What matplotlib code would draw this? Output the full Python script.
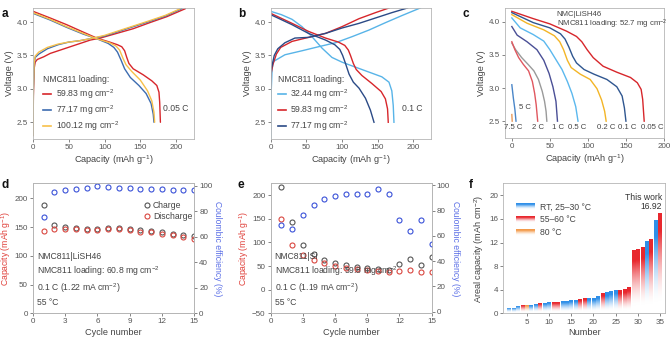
import numpy as np
import matplotlib
matplotlib.use("Agg")
import matplotlib.pyplot as plt
from matplotlib.lines import Line2D
from matplotlib.colors import to_rgb

plt.rcParams['font.family'] = ['Liberation Sans', 'DejaVu Sans']
plt.rcParams['mathtext.fontset'] = 'custom'
plt.rcParams['mathtext.rm'] = 'Liberation Sans'
plt.rcParams['mathtext.it'] = 'Liberation Sans:italic'
plt.rcParams['mathtext.bf'] = 'Liberation Sans:bold'

# ---------------- panel a: 0.05 C, three cathode loadings ----------------
a_loadings = ["59.83", "77.17", "100.12"]
a_chg_5983 = [(0, 2.30), (0.5, 2.9), (1.5, 3.30), (3, 3.40), (6, 3.44), (15, 3.48), (24, 3.53), (38, 3.58),
              (52, 3.63), (66, 3.68), (80, 3.73), (94, 3.76), (117, 3.83), (140, 3.90), (163, 3.99),
              (187, 4.08), (213, 4.20)]
a_chg_7717 = [(0, 2.30), (0.5, 3.0), (1.5, 3.35), (3, 3.47), (8, 3.52), (20, 3.60), (35, 3.66), (50, 3.70),
              (65, 3.72), (80, 3.75), (100, 3.79), (120, 3.86), (140, 3.93), (163, 4.01), (185, 4.09),
              (208, 4.20)]
a_chg_10012 = [(0, 2.30), (0.5, 3.0), (1.5, 3.38), (3, 3.49), (8, 3.55), (20, 3.62), (35, 3.67), (50, 3.70),
               (65, 3.72), (80, 3.75), (100, 3.80), (120, 3.87), (140, 3.94), (163, 4.02), (185, 4.10),
               (206, 4.20)]
a_dis_5983 = [(0, 4.16), (24, 4.06), (47, 3.96), (70, 3.85), (89, 3.76), (107, 3.70), (118, 3.66), (124, 3.63),
              (128, 3.57), (131, 3.47), (134, 3.38), (140, 3.30), (154, 3.21), (166, 3.12), (173, 3.05),
              (176, 2.95), (177, 2.80), (178, 2.50)]
a_dis_7717 = [(0, 4.13), (24, 4.03), (47, 3.92), (70, 3.82), (89, 3.75), (105, 3.68), (113, 3.62), (118, 3.55),
              (123, 3.43), (128, 3.30), (136, 3.17), (148, 3.05), (158, 2.93), (165, 2.78), (168, 2.62),
              (169, 2.50)]
a_dis_10012 = [(0, 4.14), (24, 4.04), (47, 3.93), (70, 3.83), (89, 3.75), (107, 3.69), (116, 3.64), (121, 3.58),
               (126, 3.45), (130, 3.36), (138, 3.26), (150, 3.13), (160, 2.97), (166, 2.82), (169, 2.65),
               (170, 2.50)]
a_colors = ["#d7262b", "#3d6cb0", "#f7c04a"]

# ---------------- panel b: 0.1 C, three cathode loadings ----------------
b_loadings = ["32.44", "59.83", "77.17"]
b_chg_3244 = [(0, 2.25), (0.5, 2.9), (2, 3.30), (4, 3.41), (20, 3.51), (44, 3.57), (67, 3.63), (91, 3.69),
              (114, 3.78), (138, 3.88), (161, 3.99), (185, 4.10), (210, 4.21)]
b_chg_5983 = [(0, 3.15), (1, 3.25), (3, 3.36), (8, 3.52), (14, 3.62), (30, 3.71), (53, 3.77), (77, 3.83),
              (100, 3.93), (124, 4.05), (147, 4.14), (166, 4.21)]
b_chg_7717 = [(0, 3.00), (1, 3.30), (5, 3.50), (10, 3.60), (20, 3.69), (34, 3.76), (53, 3.77), (77, 3.83),
              (100, 3.91), (124, 3.98), (147, 4.06), (170, 4.14), (192, 4.21)]
b_dis_3244 = [(0, 4.16), (15, 4.11), (30, 4.04), (44, 3.93), (58, 3.78), (72, 3.61), (86, 3.47), (100, 3.40),
              (110, 3.36), (133, 3.27), (156, 3.18), (166, 3.10), (170, 2.97), (172, 2.75), (173, 2.50)]
b_dis_5983 = [(0, 4.13), (30, 3.98), (53, 3.86), (77, 3.76), (95, 3.70), (104, 3.65), (109, 3.58), (112, 3.50),
              (116, 3.38), (120, 3.29), (128, 3.20), (142, 3.08), (155, 2.96), (161, 2.85), (164, 2.70),
              (165, 2.50)]
b_dis_7717 = [(0, 4.11), (30, 3.96), (53, 3.83), (77, 3.73), (90, 3.66), (97, 3.59), (101, 3.50), (105, 3.38),
              (110, 3.22), (116, 3.10), (124, 3.01), (133, 2.86), (140, 2.68), (145, 2.50)]
b_colors = ["#58b4e8", "#d7262b", "#2b4a86"]

# ---------------- panel c: rate capability ----------------
c_rate_labels = ["0.05 C", "0.1 C", "0.2 C", "0.5 C", "1 C", "2 C", "5 C", "7.5 C"]
c_005 = [(0, 4.16), (28, 4.05), (50, 3.97), (72, 3.86), (85, 3.78), (92, 3.70), (99, 3.58), (107, 3.46),
         (120, 3.33), (138, 3.24), (156, 3.16), (165, 3.08), (170, 2.98), (172, 2.83), (174, 2.50)]
c_01 = [(0, 4.14), (28, 3.99), (50, 3.91), (64, 3.82), (70, 3.74), (75, 3.62), (80, 3.48), (85, 3.38),
        (95, 3.28), (108, 3.21), (125, 3.13), (138, 3.02), (145, 2.88), (148, 2.70), (150, 2.50)]
c_02 = [(0, 4.11), (20, 3.98), (42, 3.88), (56, 3.79), (63, 3.70), (68, 3.58), (73, 3.42), (78, 3.31),
        (90, 3.21), (103, 3.13), (112, 2.99), (118, 2.82), (122, 2.65), (124, 2.50)]
c_05 = [(0, 4.06), (11, 3.91), (28, 3.81), (42, 3.71), (50, 3.58), (58, 3.43), (66, 3.28), (73, 3.10),
        (79, 2.92), (84, 2.72), (87, 2.50)]
c_1 = [(0, 3.93), (7, 3.80), (20, 3.70), (33, 3.58), (42, 3.42), (49, 3.22), (54, 3.02), (58, 2.80), (60, 2.50)]
c_15 = [(0, 3.68), (5, 3.58), (13, 3.46), (22, 3.35), (29, 3.26), (35, 3.13), (40, 2.95), (43, 2.80),
        (45, 2.65), (46, 2.50)]
c_2 = [(0, 3.70), (4, 3.58), (9, 3.46), (15, 3.36), (22, 3.26), (27, 3.10), (30, 2.92), (32, 2.75), (34, 2.50)]
c_5 = [(0, 3.05), (2, 2.85), (4, 2.68), (5.5, 2.50)]
c_75 = [(0, 2.60), (0.5, 2.50)]
c_curves = [c_005, c_01, c_02, c_05, c_1, c_15, c_2, c_5, c_75]
c_colors = ["#d7262b", "#2f5690", "#f3b526", "#5bb8ee", "#4a4f96", "#9a9a9a", "#e0575f", "#4a86c8", "#e89a5c"]

# ---------------- panel d: NMC811|LiSH46 cycling ----------------
d_cycles = list(range(1, 16))
d_charge = [188, 154, 150, 149, 146.5, 146, 148, 148, 146.5, 145, 143, 140.7, 138.4, 136, 133.7]
d_discharge = [143.6, 146.5, 146.5, 146.5, 145, 145, 147, 146.5, 144, 142, 140.7, 137.8, 135.5, 132.6, 130]
d_ce = [75.7, 94.8, 96.6, 97.4, 98.4, 100, 99.2, 98.4, 98.4, 97.6, 97.4, 97.4, 97.1, 97.1, 97.1]

# ---------------- panel e: NMC811|Si cycling ----------------
e_cycles = list(range(1, 16))
e_charge = [216.9, 143.7, 94.4, 74.6, 62.7, 57, 52, 48.6, 45, 43.7, 41.5, 53.5, 64.8, 52, 68.3]
e_discharge = [149.3, 94.4, 73.2, 62.7, 55.6, 50.7, 46.5, 43.7, 41.5, 39.4, 37.3, 39.4, 40.8, 38, 38]
e_ce = [68.9, 65.3, 76.3, 84.7, 89.5, 91.3, 92.9, 92.9, 93.2, 96.8, 93.2, 72.9, 63.7, 72.9, 53.9]

# ---------------- panel f: areal capacity comparison ----------------
f_areal = [1.0, 1.0, 1.2, 1.4, 1.5, 1.5, 1.6, 1.8, 1.8, 1.9, 1.9, 2.0, 2.1, 2.1, 2.2, 2.2, 2.5, 2.6,
           2.6, 2.7, 3.0, 3.4, 3.55, 3.8, 3.95, 4.0, 4.1, 4.5, 10.77, 10.94, 11.3, 12.2, 12.6, 15.75, 16.92]
f_temp = ["RT", "RT", "RT", "HT", "80", "RT", "RT", "HT", "RT", "RT", "HT", "HT", "RT", "RT", "RT", "RT",
          "HT", "HT", "RT", "RT", "RT", "HT", "RT", "RT", "RT", "HT", "HT", "HT", "HT", "HT", "HT", "RT",
          "HT", "RT", "HT"]
f_temp_labels = {"RT": "RT, 25\u201330 \u00b0C", "HT": "55\u201360 \u00b0C", "80": "80 \u00b0C"}
f_temp_colors = {"RT": "#2f8fe8", "HT": "#e8282e", "80": "#f39a4a"}

TICK_C = "#555555"
SPINE_C = "#b5b5b5"
LABEL_C = "#444444"
FS_TICK = 5.8
FS_LAB = 6.6
FS_TXT = 6.2

fig = plt.figure(figsize=(6.7, 3.38), dpi=100)


def style(ax):
    for s in ax.spines.values():
        s.set_color(SPINE_C)
        s.set_linewidth(0.6)
    ax.tick_params(labelsize=FS_TICK, colors=TICK_C, length=2.2, width=0.5, pad=1.5)


def xy(curve):
    arr = np.array(curve, dtype=float)
    return arr[:, 0], arr[:, 1]


def voltage_axes(ax, xlim):
    ax.set_xlim(*xlim)
    ax.set_ylim(2.25, 4.21)
    ax.set_yticks([2.5, 3.0, 3.5, 4.0])
    ax.set_xticks([0, 50, 100, 150, 200])
    ax.set_xlabel("Capacity (mAh g$^{-1}$)", fontsize=FS_LAB, color=LABEL_C, labelpad=1.5)
    ax.set_ylabel("Voltage (V)", fontsize=FS_LAB, color=LABEL_C, labelpad=2)
    style(ax)


# ---- a ----
ax_a = fig.add_axes([0.0493, 0.5888, 0.2403, 0.3876])
voltage_axes(ax_a, (0, 225))
for chg, dis, col in zip([a_chg_5983, a_chg_7717, a_chg_10012], [a_dis_5983, a_dis_7717, a_dis_10012], a_colors):
    ax_a.plot(*xy(chg), color=col, lw=1.0, solid_capstyle='round')
    ax_a.plot(*xy(dis), color=col, lw=1.0, solid_capstyle='round')
handles = [Line2D([], [], color=c, lw=1.2) for c in a_colors]
leg = ax_a.legend(handles, [f"{v} mg cm$^{{-2}}$" for v in a_loadings], title="NMC811 loading:",
                  loc='lower left', bbox_to_anchor=(0.065, 0.045), frameon=False, fontsize=FS_TXT,
                  title_fontsize=FS_TXT, handlelength=0.9, handletextpad=0.5, labelspacing=0.3,
                  borderpad=0, borderaxespad=0, alignment='left')
for t in leg.get_texts() + [leg.get_title()]:
    t.set_color(LABEL_C)
ax_a.text(182, 2.71, "0.05 C", fontsize=FS_TXT, color=LABEL_C, va='center')

# ---- b ----
ax_b = fig.add_axes([0.404, 0.5888, 0.2393, 0.3876])
voltage_axes(ax_b, (0, 225))
for chg, dis, col in zip([b_chg_3244, b_chg_5983, b_chg_7717], [b_dis_3244, b_dis_5983, b_dis_7717], b_colors):
    ax_b.plot(*xy(chg), color=col, lw=1.0)
    ax_b.plot(*xy(dis), color=col, lw=1.0)
handles = [Line2D([], [], color=c, lw=1.2) for c in b_colors]
leg = ax_b.legend(handles, [f"{v} mg cm$^{{-2}}$" for v in b_loadings], title="NMC811 loading:",
                  loc='lower left', bbox_to_anchor=(0.045, 0.045), frameon=False, fontsize=FS_TXT,
                  title_fontsize=FS_TXT, handlelength=0.9, handletextpad=0.5, labelspacing=0.3,
                  borderpad=0, borderaxespad=0, alignment='left')
for t in leg.get_texts() + [leg.get_title()]:
    t.set_color(LABEL_C)
ax_b.text(184, 2.71, "0.1 C", fontsize=FS_TXT, color=LABEL_C, va='center')

# ---- c ----
ax_c = fig.add_axes([0.7537, 0.5926, 0.2373, 0.3837])
voltage_axes(ax_c, (-9, 200))
for cur, col in zip(c_curves, c_colors):
    ax_c.plot(*xy(cur), color=col, lw=1.0)
c_label_x = [184, 151, 124, 86, 61, 34]
for lab, xpos in zip(c_rate_labels[:6], c_label_x):
    ax_c.text(xpos, 2.41, lab, fontsize=5.6, color=LABEL_C, ha='center', va='center')
ax_c.text(9, 2.70, "5 C", fontsize=5.6, color=LABEL_C, va='center')
ax_c.text(2, 2.40, "7.5 C", fontsize=5.6, color=LABEL_C, ha='center', va='center')
ax_c.text(59, 4.11, "NMC|LiSH46", fontsize=5.6, color=LABEL_C, va='center')
ax_c.text(59, 3.96, "NMC811 loading: 52.7 mg cm$^{-2}$", fontsize=5.6, color=LABEL_C, va='center')

# ---- cycling panels ----
CHG_C = "#555555"
DIS_C = "#d9463f"
CE_C = "#3a52d8"
CE_LAB = "#5a6ee6"
CAP_LAB = "#e0403a"


def cycling(rect, cycles, chg, dis, ce, ylim, yticks, ce_ylim, text, legend):
    ax = fig.add_axes(rect)
    ax2 = ax.twinx()
    mk = dict(marker='o', ms=3.6, mfc='none', mew=0.8, ls='none')
    ax.plot(cycles, chg, mec=CHG_C, label="Charge", **mk)
    ax.plot(cycles, dis, mec=DIS_C, label="Discharge", **mk)
    ax2.plot(cycles, ce, mec=CE_C, **mk)
    ax.set_xlim(0, 15)
    ax.set_xticks([0, 3, 6, 9, 12, 15])
    ax.set_ylim(*ylim)
    ax.set_yticks(yticks)
    ax2.set_ylim(*ce_ylim)
    ax2.set_yticks([0, 20, 40, 60, 80, 100])
    ax.set_xlabel("Cycle number", fontsize=FS_LAB, color=LABEL_C, labelpad=1.5)
    ax.set_ylabel("Capacity (mAh g$^{-1}$)", fontsize=6.2, color=CAP_LAB, labelpad=1)
    ax2.set_ylabel("Coulombic efficiency (%)", fontsize=6.2, color=CE_LAB, rotation=270, labelpad=7)
    style(ax)
    style(ax2)
    ax.text(0.025, 0.05, text, transform=ax.transAxes, fontsize=FS_TXT, color=LABEL_C,
            va='bottom', ha='left', linespacing=1.35)
    if legend:
        lg = ax.legend(loc='upper right', bbox_to_anchor=(1.0, 0.88), frameon=False, fontsize=FS_TXT,
                       handlelength=0.6, handletextpad=0.4, labelspacing=0.25, borderpad=0, borderaxespad=0.2)
        for t in lg.get_texts():
            t.set_color(LABEL_C)
    return ax, ax2


cycling([0.0493, 0.0731, 0.2403, 0.3846], d_cycles, d_charge, d_discharge, d_ce,
        (0, 226), [0, 50, 100, 150, 200], (0, 102),
        "NMC811|LiSH46\nNMC811 loading: 60.8 mg cm$^{-2}$\n0.1 C (1.22 mA cm$^{-2}$)\n55 \u00b0C", True)
cycling([0.404, 0.0731, 0.2403, 0.3846], e_cycles, e_charge, e_discharge, e_ce,
        (-50, 225), [-50, 0, 50, 100, 150, 200], (-1.3, 101.6),
        "NMC811|Si\nNMC811 loading: 59.8 mg cm$^{-2}$\n0.1 C (1.19 mA cm$^{-2}$)\n55 \u00b0C", False)

# ---- f ----
ax_f = fig.add_axes([0.7512, 0.0725, 0.2413, 0.3850])
style(ax_f)
n = np.arange(1, len(f_areal) + 1)
bars = ax_f.bar(n, f_areal, width=0.82, color='none', edgecolor='none')


def fade(color, rows=64):
    # colour at the top of the bar, washing out to white towards its base
    t = np.linspace(0, 1, rows)[:, None]
    a = np.clip((t - 0.12) / 0.7, 0, 1) ** 1.6
    c = np.array(to_rgb(color))[None, :]
    img = (1 - a) * 1.0 + a * c
    return img[:, None, :]


for b, key in zip(bars, f_temp):
    x0 = b.get_x()
    im = ax_f.imshow(fade(f_temp_colors[key]), extent=[x0, x0 + b.get_width(), 0, b.get_height()],
                     origin='lower', aspect='auto', interpolation='bilinear', zorder=2)
    im.set_clip_path(b)

# gradient legend swatches
for i, key in enumerate(["RT", "HT", "80"]):
    yc = 18.0 - i * 2.15
    ax_f.imshow(fade(f_temp_colors[key]), extent=[2.6, 6.7, yc - 0.55, yc + 0.55], origin='lower',
                aspect='auto', interpolation='bilinear', zorder=2)
    ax_f.text(8.0, yc, f_temp_labels[key], fontsize=FS_TXT, color=LABEL_C, va='center')

ax_f.set_xlim(-0.3, 36.1)
ax_f.set_ylim(0, 22)
ax_f.set_xticks([5, 10, 15, 20, 25, 30, 35])
ax_f.set_yticks([0, 4, 8, 12, 16, 20])
ax_f.set_xlabel("Number", fontsize=FS_LAB, color=LABEL_C, labelpad=1.5)
ax_f.set_ylabel("Areal capacity (mAh cm$^{-2}$)", fontsize=FS_LAB, color=LABEL_C, labelpad=2)
ax_f.text(35.4, f_areal[-1] + 0.4, "This work\n%.2f" % f_areal[-1], fontsize=FS_TXT, color="#333333",
          ha='right', va='bottom', linespacing=1.0)

# panel letters
for lab, (x, y) in zip("abcdef", [(0.002, 0.975), (0.355, 0.975), (0.69, 0.975),
                                   (0.002, 0.47), (0.355, 0.47), (0.70, 0.47)]):
    fig.text(x, y, lab, fontsize=8.5, fontweight='bold', va='top', ha='left', color='#111111')

fig.savefig("out.png", dpi=100)
